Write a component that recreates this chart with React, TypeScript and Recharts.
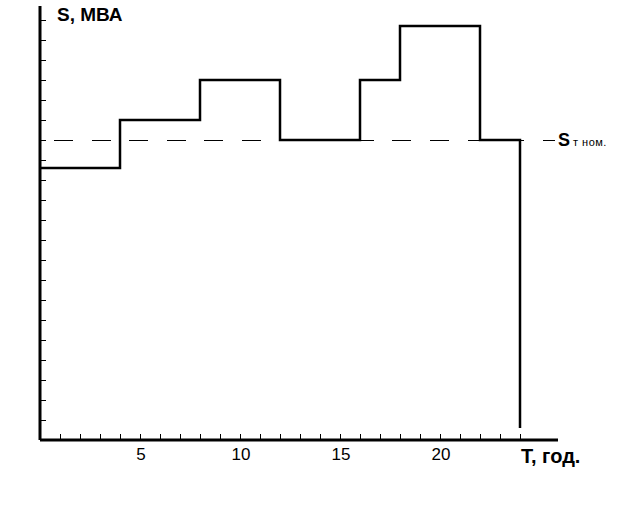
import { LineChart, Line, XAxis, YAxis, ReferenceLine } from 'recharts';

// load schedule (step changes at these hours)
const hours = [0, 4, 8, 12, 16, 18, 22, 24];
const loadMVA = [13.6, 16, 18, 15, 18, 20.7, 15, 0.6];
const nominalMVA = 15;

const xTicks = [1, 2, 3, 4, 5, 6, 7, 8, 9, 10, 11, 12, 13, 14, 15, 16, 17, 18, 19, 20, 21, 22, 23, 24];
const xLabels = [5, 10, 15, 20];
const yTicks = [1, 2, 3, 4, 5, 6, 7, 8, 9, 10, 11, 12, 13, 14, 15, 16, 17, 18, 19, 20, 21];

const FONT = '"Liberation Sans", Arial, sans-serif';

function XTick(props: any) {
  const { x, y, payload } = props;
  const v = payload.value;
  const px = Math.round(x) + 0.5;
  return (
    <g>
      <line x1={px} x2={px} y1={y - 1} y2={y - 6} stroke="#000" strokeWidth={1} />
      {xLabels.includes(v) && (
        <text x={x + 1} y={y + 19.5} textAnchor="middle" fontSize={17} fontFamily={FONT} fill="#000">
          {v}
        </text>
      )}
    </g>
  );
}

function YTick(props: any) {
  const { x, y } = props;
  const py = Math.round(y) + 0.5;
  return <line x1={x + 1} x2={x + 6} y1={py} y2={py} stroke="#000" strokeWidth={1} />;
}

export default function App() {
  const data = hours.map((t, i) => ({ t, s: loadMVA[i] }));

  return (
    <div style={{ position: 'absolute', left: 0, top: 0, width: 640, height: 512, background: '#fff' }}>
      <LineChart width={640} height={512} data={data} margin={{ top: 6, right: 82, left: 0, bottom: 0 }}>
        <XAxis
          dataKey="t"
          type="number"
          domain={[0, 25.9]}
          ticks={xTicks}
          interval={0}
          allowDataOverflow
          height={72}
          tickSize={0}
          tickMargin={0}
          tickLine={false}
          axisLine={{ stroke: '#000', strokeWidth: 3 }}
          tick={<XTick />}
        />
        <YAxis
          type="number"
          domain={[0, 21.7]}
          ticks={yTicks}
          interval={0}
          allowDataOverflow
          width={40}
          tickSize={0}
          tickMargin={0}
          tickLine={false}
          axisLine={{ stroke: '#000', strokeWidth: 3 }}
          tick={<YTick />}
        />
        <ReferenceLine
          segment={[{ x: 0.7, y: nominalMVA }, { x: 25.75, y: nominalMVA }]}
          stroke="#000"
          strokeWidth={1}
          strokeDasharray="19 18.6"
          shapeRendering="crispEdges"
        />
        <Line
          type="stepAfter"
          dataKey="s"
          stroke="#000"
          strokeWidth={2.5}
          dot={false}
          isAnimationActive={false}
        />
      </LineChart>
      <svg width={640} height={512} style={{ position: 'absolute', left: 0, top: 0, pointerEvents: 'none' }}>
        <text x={57} y={21} fontSize={19} fontWeight="bold" fontFamily={FONT} fill="#000">
          S, МВА
        </text>
        <text x={521} y={463} fontSize={20} fontWeight="bold" fontFamily={FONT} fill="#000">
          T, год.
        </text>
        <text x={558} y={146} fontFamily={FONT} fill="#000">
          <tspan fontSize={18} fontWeight="bold">S</tspan>
          <tspan fontSize={11} dx={3} letterSpacing={0.5}>т ном.</tspan>
        </text>
      </svg>
    </div>
  );
}
